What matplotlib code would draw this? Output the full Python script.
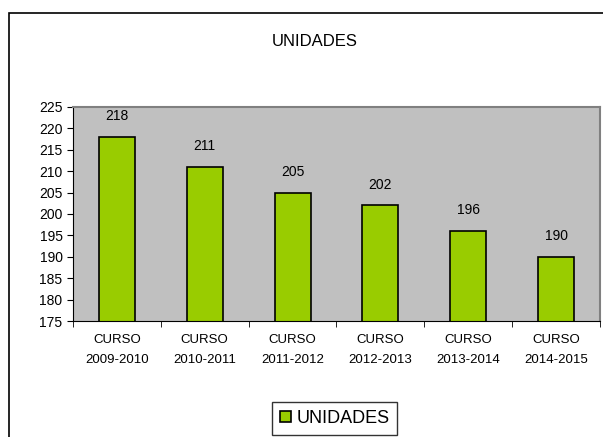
import matplotlib.pyplot as plt
from matplotlib.patches import Rectangle

plt.rcParams['font.family'] = ['Liberation Sans', 'DejaVu Sans']

cursos = ["CURSO\n2009-2010", "CURSO\n2010-2011", "CURSO\n2011-2012",
          "CURSO\n2012-2013", "CURSO\n2013-2014", "CURSO\n2014-2015"]
unidades = [218, 211, 205, 202, 196, 190]
yticks = [175, 180, 185, 190, 195, 200, 205, 210, 215, 220, 225]

fig = plt.figure(figsize=(6.03, 4.37), dpi=100)
ax = fig.add_axes([0.121, 0.2654, 0.874, 0.49])

# outer frame of the chart area (top and left edges visible)
fig.patches.append(Rectangle((9 / 603, -0.1), 1.2, 0.1 + 1 - 13 / 437,
                             transform=fig.transFigure, fill=False,
                             edgecolor="black", linewidth=1.2))

x = list(range(len(cursos)))
bars = ax.bar(x, unidades, width=0.41, color="#99CC00", edgecolor="black",
              linewidth=1.2, label="UNIDADES")

for xi, v in zip(x, unidades):
    ax.annotate(str(v), (xi, v), xytext=(0, 10), textcoords="offset points",
                ha="center", va="bottom", fontsize=10)

ax.set_facecolor("#C0C0C0")
ax.set_ylim(175, 225)
ax.set_xlim(-0.5, len(cursos) - 0.5)
ax.set_yticks(yticks)
ax.set_xticks(x)
ax.set_xticklabels(cursos, fontsize=9.5, linespacing=1.9)
ax.set_xticks([i + 0.5 for i in range(-1, len(cursos))], minor=True)
ax.tick_params(axis="x", which="major", length=0, pad=9)
ax.tick_params(axis="x", which="minor", length=4, direction="out")
ax.tick_params(axis="y", length=4, direction="out", labelsize=10)

for s in ["top", "right"]:
    ax.spines[s].set_color("#808080")
    ax.spines[s].set_linewidth(1.5)
for s in ["left", "bottom"]:
    ax.spines[s].set_color("black")

fig.text(0.522, 0.904, "UNIDADES", ha="center", va="center", fontsize=12)

fig.legend(handles=[bars], loc="center", bbox_to_anchor=(0.555, 0.043),
           fontsize=13, frameon=True, fancybox=False, edgecolor="black",
           handlelength=0.6, handleheight=0.6, handletextpad=0.3,
           borderpad=0.45, borderaxespad=0)

fig.savefig("out.png", dpi=100)
